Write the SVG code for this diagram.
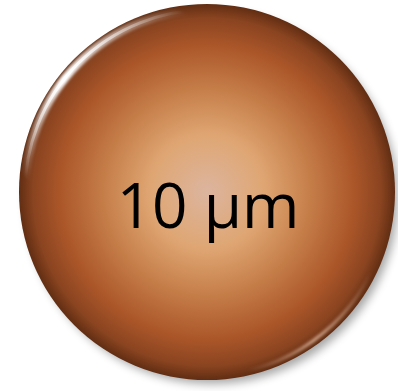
<svg xmlns="http://www.w3.org/2000/svg" width="398" height="391" viewBox="0 0 398 391">
  <defs>
    <radialGradient id="body" cx="207" cy="192" r="189" gradientUnits="userSpaceOnUse">
      <stop offset="0" stop-color="#dcb59f"/>
      <stop offset="0.3" stop-color="#dfa673"/>
      <stop offset="0.55" stop-color="#c57d48"/>
      <stop offset="0.78" stop-color="#ab5629"/>
      <stop offset="0.92" stop-color="#8a4420"/>
      <stop offset="1" stop-color="#5e2c12"/>
    </radialGradient>
    <linearGradient id="hl" gradientUnits="userSpaceOnUse" x1="22" y1="175" x2="185" y2="12">
      <stop offset="0" stop-color="#fff" stop-opacity="0"/>
      <stop offset="0.42" stop-color="#fff" stop-opacity="1"/>
      <stop offset="1" stop-color="#fff" stop-opacity="0"/>
    </linearGradient>
    <linearGradient id="rim" gradientUnits="userSpaceOnUse" x1="370" y1="270" x2="250" y2="375">
      <stop offset="0" stop-color="#f0c8b0" stop-opacity="0"/>
      <stop offset="0.55" stop-color="#f0c8b0" stop-opacity="1"/>
      <stop offset="1" stop-color="#f0c8b0" stop-opacity="0"/>
    </linearGradient>
    <filter id="blur" x="-20%" y="-20%" width="140%" height="140%">
      <feGaussianBlur stdDeviation="5"/>
    </filter>
    <filter id="soft" x="-20%" y="-20%" width="140%" height="140%">
      <feGaussianBlur stdDeviation="1.8"/>
    </filter>
    <filter id="fine" x="-20%" y="-20%" width="140%" height="140%">
      <feGaussianBlur stdDeviation="0.7"/>
    </filter>
    <clipPath id="clip"><circle cx="207" cy="192" r="188"/></clipPath>
    <style>
      .label { font-family: "Open Sans", "DejaVu Sans", sans-serif; font-size: 62px; fill: #000; }
    </style>
  </defs>
  <g id="sphere">
    <circle cx="212" cy="198" r="186" fill="#000" opacity="0.35" filter="url(#blur)"/>
    <circle cx="207" cy="192" r="188" fill="url(#body)"/>
    <g clip-path="url(#clip)">
      <path d="M 25 192 A 182 182 0 0 1 207 10" fill="none" stroke="url(#hl)" stroke-width="8" filter="url(#soft)"/>
      <path d="M 25 192 A 182 182 0 0 1 207 10" fill="none" stroke="url(#hl)" stroke-width="3" filter="url(#fine)"/>
      <path d="M 380 250 A 184 184 0 0 1 230 374" fill="none" stroke="url(#rim)" stroke-width="3" filter="url(#soft)" opacity="0.8"/>
    </g>
    <text class="label" x="208" y="228" text-anchor="middle">10 µm</text>
  </g>
</svg>
